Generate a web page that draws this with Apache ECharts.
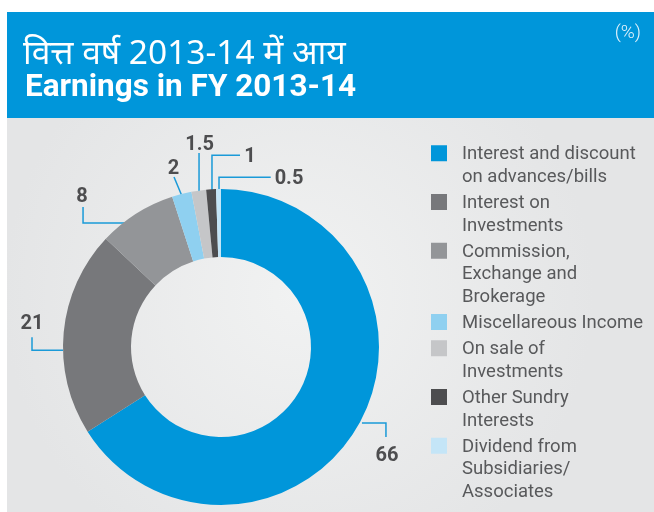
<!DOCTYPE html>
<html>
<head>
<meta charset="utf-8">
<script src="https://cdn.jsdelivr.net/npm/echarts@6/dist/echarts.min.js"></script>
<style>
html,body{margin:0;padding:0;background:#ffffff;}
#chart{width:654px;height:512px;}
</style>
</head>
<body>
<div id="chart"></div>
<script>
// ---- data ----
const titleHindi = 'वित्त वर्ष 2013-14 में आय';
const titleEnglish = 'Earnings in FY 2013-14';
const unitLabel = '(%)';
const categories = [
  'Interest and discount\non advances/bills',
  'Interest on\nInvestments',
  'Commission,\nExchange and\nBrokerage',
  'Miscellareous Income',
  'On sale of\nInvestments',
  'Other Sundry\nInterests',
  'Dividend from\nSubsidiaries/\nAssociates'
];
const values = [66, 21, 8, 2, 1.5, 1, 0.5];
const valueLabels = ['66', '21', '8', '2', '1.5', '1', '0.5'];
const colors = ['#0096da', '#77787b', '#939598', '#8fd0f0', '#c5c6c8', '#4d4d4f', '#c4e5f7'];

// ---- label guide offsets (relative to each slice's outer-edge mid point) ----
const guides = [
  { pts: [[2.5, 0], [26.5, 0], [26.5, 14]], lab: [27.5, 33] },
  { pts: [[-0.7, 18], [-31.7, 18], [-31.7, 5]], lab: [-31.7, -8.5] },
  { pts: [[20.7, 9.4], [-53.3, 9.4], [-53.3, -6.6]], lab: [-54.3, -16.8] },
  { pts: [[2.3, 7], [-7.7, -17], [-7.7, -17]], lab: [-8.2, -25] },
  { pts: [[0.3, 6.4], [0.3, -37.6], [0.3, -37.6]], lab: [0.8, -45.5] },
  { pts: [[0.9, 7.7], [0.9, -34], [28.9, -34]], lab: [39, -32.5] },
  { pts: [[0.5, 19], [0.5, -11.7], [52.2, -11.7]], lab: [70.5, -10.5] }
];

const chart = echarts.init(document.getElementById('chart'), null, { renderer: 'canvas' });

const LINE_H = 22.5;
const rich = {
  t: { fontFamily: 'Roboto', fontSize: 18.5, color: '#58595b', lineHeight: LINE_H, padding: [3, 0, 0, 15] },
  sp: { width: 16, height: 16, lineHeight: LINE_H }
};
colors.forEach(function (c, i) {
  rich['s' + i] = { width: 16, height: 16, lineHeight: LINE_H, backgroundColor: c };
});

function legendFormatter(name) {
  const i = categories.indexOf(name);
  return name.split('\n').map(function (line, k) {
    return (k === 0 ? '{s' + i + '|}' : '{sp|}') + '{t|' + line + '}';
  }).join('\n');
}

// one legend block per category, stacked
const legends = [];
let legendTop = 142.25;
categories.forEach(function (name) {
  legends.push({
    orient: 'vertical',
    left: 426,
    top: legendTop,
    padding: 0,
    itemWidth: 0,
    itemHeight: 16,
    icon: 'none',
    selectedMode: false,
    data: [name],
    formatter: legendFormatter,
    textStyle: { rich: rich }
  });
  legendTop += name.split('\n').length * LINE_H + 3.75;
});

const seriesData = values.map(function (v, i) {
  return { name: categories[i], value: v, itemStyle: { color: colors[i] } };
});

chart.setOption({
  animation: false,
  backgroundColor: '#ffffff',
  graphic: [
    {
      type: 'rect', z: -10, silent: true,
      shape: { x: 7, y: 118, width: 647, height: 394 },
      style: {
        fill: new echarts.graphic.RadialGradient(0.45, 0.45, 0.75, [
          { offset: 0, color: '#f1f2f2' },
          { offset: 1, color: '#e4e5e6' }
        ])
      }
    },
    {
      type: 'rect', z: -10, silent: true,
      shape: { x: 7, y: 12, width: 647, height: 106 },
      style: { fill: '#0096da' }
    }
  ],
  title: [
    {
      text: titleHindi, left: 23, top: 37, padding: 0,
      textStyle: { color: '#ffffff', fontSize: 33.5, fontWeight: 'normal', fontFamily: 'Noto Sans' }
    },
    {
      text: titleEnglish, left: 25, top: 72.5, padding: 0,
      textStyle: { color: '#ffffff', fontSize: 31.5, fontWeight: 'bold', fontFamily: 'Roboto' }
    },
    {
      text: unitLabel, right: 13, top: 24, padding: 0,
      textStyle: { color: '#e3f2fb', fontSize: 19, fontWeight: 300, fontFamily: 'Roboto' }
    }
  ],
  legend: legends,
  series: [
    {
      type: 'pie',
      center: [221, 347],
      radius: [90, 158],
      startAngle: 90,
      clockwise: true,
      avoidLabelOverlap: false,
      silent: true,
      data: seriesData,
      label: {
        show: true,
        position: 'outside',
        formatter: function (p) { return valueLabels[p.dataIndex]; },
        fontFamily: 'Roboto',
        fontWeight: 'bold',
        fontSize: 20,
        color: '#4d4d4f'
      },
      labelLine: {
        show: true,
        length: 10,
        length2: 10,
        lineStyle: { color: '#1a9ad8', width: 1.5 }
      },
      labelLayout: function (params) {
        const g = guides[params.dataIndex];
        const a = params.labelLinePoints[0];
        return {
          x: a[0] + g.lab[0],
          y: a[1] + g.lab[1],
          align: 'center',
          verticalAlign: 'middle',
          labelLinePoints: g.pts.map(function (p) { return [a[0] + p[0], a[1] + p[1]]; })
        };
      }
    }
  ]
});
</script>
</body>
</html>
